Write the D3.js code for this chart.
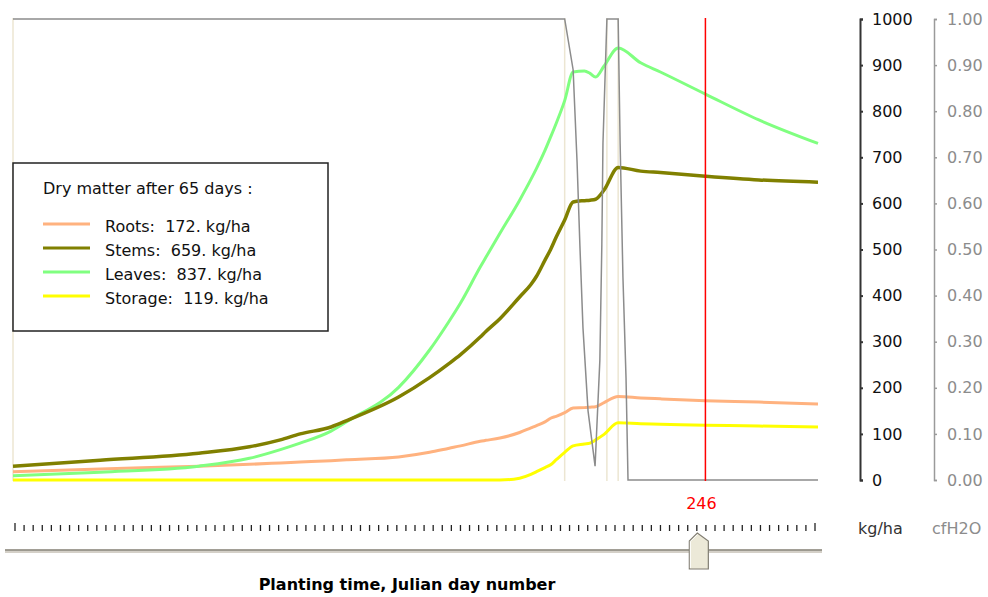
<!DOCTYPE html>
<html>
<head>
<meta charset="utf-8">
<script src="https://cdn.jsdelivr.net/npm/d3@7"></script>
<style>
  html, body { margin: 0; padding: 0; background: #ffffff; }
  svg { display: block; font-family: "DejaVu Sans", sans-serif; }
</style>
</head>
<body>
<svg id="chart" width="988" height="597"></svg>
<script>
// Planting day (Julian) on the x axis
const days    = [0, 31, 66, 84, 95, 102, 113, 119, 137, 148, 155, 159, 166, 168, 173, 180, 184, 186, 189, 191, 193, 196, 199, 203, 205, 207, 210, 215, 223, 230, 246, 265, 286];
// Dry matter after 65 days, kg/ha
const roots   = [18, 24, 30, 34, 37, 39, 42, 44, 50, 60, 69, 74, 84, 86, 91, 103, 113, 118, 126, 134, 138, 146, 156, 157, 158, 159, 168, 181, 178, 176, 172, 169, 165];
const stems   = [30, 43, 58, 72, 87, 100, 115, 130, 180, 222, 253, 272, 310, 322, 350, 397, 424, 442, 477, 500, 527, 564, 603, 606, 607, 609, 629, 678, 670, 667, 659, 651, 646];
const leaves  = [9, 17, 30, 47, 66, 80, 106, 128, 201, 282, 345, 384, 462, 483, 535, 607, 652, 676, 715, 744, 774, 823, 885, 887, 882, 874, 898, 937, 905, 885, 837, 781, 730];
const storage = [0, 0, 0, 0, 0, 0, 0, 0, 0, 0, 0, 0, 0, 0, 0, 4, 12, 18, 27, 33, 44, 60, 74, 78, 80, 87, 99, 124, 122, 121, 119, 117, 115];

// Water stress factor (cfH2O), 0..1
const waterDays = [0, 196, 199, 200.4, 201.4, 202.5, 204.3, 206.8, 208.5, 209.2, 209.6, 211, 215, 215.7, 216.7, 217.8, 218.5, 286];
const cfH2O     = [1, 1, 0.89, 0.69, 0.51, 0.33, 0.15, 0.03, 0.26, 0.51, 0.73, 1, 1, 0.73, 0.44, 0.22, 0, 0];

// Development stage boundaries
const stageDays = [0, 196, 211, 215];

const seriesNames  = ["Roots", "Stems", "Leaves", "Storage"];
const seriesColors = ["#ffb27f", "#808000", "#80ff80", "#ffff00"];
const seriesValues = [roots, stems, leaves, storage];

const kgTicks    = [0, 100, 200, 300, 400, 500, 600, 700, 800, 900, 1000];
const waterTicks = [0, 0.1, 0.2, 0.3, 0.4, 0.5, 0.6, 0.7, 0.8, 0.9, 1.0];

const selectedDay = 246;
const growthDays  = 65;
const sliderSteps = 88;

const svg = d3.select("#chart");

const x  = d3.scaleLinear().domain([0, 286]).range([13, 818]);
const y  = d3.scaleLinear().domain([0, 1000]).range([480, 19]);
const yw = d3.scaleLinear().domain([0, 1]).range([480, 19]);

// stage boundary lines
svg.append("g").selectAll("line").data(stageDays).join("line")
  .attr("x1", d => x(d)).attr("x2", d => x(d))
  .attr("y1", 18).attr("y2", 481)
  .attr("stroke", "#ece6d2").attr("stroke-width", 1.5);

// dry matter series
const line = d3.line().x((d, i) => x(days[i])).y(d => y(d)).curve(d3.curveMonotoneX);
const drawOrder = [0, 3, 2, 1];
svg.append("g").selectAll("path").data(drawOrder).join("path")
  .attr("d", k => line(seriesValues[k]))
  .attr("fill", "none")
  .attr("stroke", k => seriesColors[k])
  .attr("stroke-width", k => k === 1 ? 3.5 : 3)
  .attr("stroke-linejoin", "round");

// water factor
const wline = d3.line().x((d, i) => x(waterDays[i])).y(d => yw(d));
svg.append("path")
  .attr("d", wline(cfH2O))
  .attr("fill", "none")
  .attr("stroke", "#8c8c8c")
  .attr("stroke-width", 1.5);

// selected planting day
svg.append("line")
  .attr("x1", x(selectedDay)).attr("x2", x(selectedDay))
  .attr("y1", 18).attr("y2", 481)
  .attr("stroke", "#ff0000").attr("stroke-width", 1.5);
svg.append("text")
  .attr("x", x(selectedDay) - 4).attr("y", 509)
  .attr("text-anchor", "middle")
  .attr("fill", "#ff0000").attr("font-size", 16)
  .text(selectedDay);

// kg/ha axis
const axL = svg.append("g").attr("transform", "translate(860,0)")
  .call(d3.axisRight(y).tickValues(kgTicks).tickSize(3).tickPadding(9).tickFormat(d3.format("d")));
axL.selectAll("path, line").attr("stroke", "#333").attr("stroke-width", 2);
axL.selectAll("text").attr("font-size", 16).attr("font-family", "DejaVu Sans, sans-serif").attr("fill", "#111");

// cfH2O axis
const axR = svg.append("g").attr("transform", "translate(934,0)")
  .call(d3.axisRight(yw).tickValues(waterTicks).tickSize(3).tickPadding(10).tickFormat(d3.format(".2f")));
axR.selectAll("path, line").attr("stroke", "#9a9a9a").attr("stroke-width", 1.5);
axR.selectAll("text").attr("font-size", 16).attr("font-family", "DejaVu Sans, sans-serif").attr("fill", "#8c8c8c");

svg.append("text").attr("x", 858).attr("y", 534).attr("font-size", 16).attr("fill", "#333").text("kg/ha");
svg.append("text").attr("x", 932).attr("y", 534).attr("font-size", 16).attr("fill", "#8c8c8c").text("cfH2O");

// legend
const idx = days.indexOf(selectedDay);
const lg = svg.append("g");
lg.append("rect").attr("x", 13).attr("y", 163).attr("width", 315).attr("height", 168)
  .attr("fill", "#fff").attr("stroke", "#222").attr("stroke-width", 1.5);
lg.append("text").attr("x", 43).attr("y", 194).attr("font-size", 16).attr("fill", "#111")
  .text(`Dry matter after ${growthDays} days :`);
const rows = lg.selectAll("g.row").data(seriesNames).join("g").attr("class", "row")
  .attr("transform", (d, i) => `translate(0,${224 + i * 24})`);
rows.append("line").attr("x1", 43).attr("x2", 90).attr("y1", 0).attr("y2", 0)
  .attr("stroke", (d, i) => seriesColors[i]).attr("stroke-width", 3);
rows.append("text").attr("x", 105).attr("y", 8).attr("font-size", 16).attr("fill", "#111")
  .style("white-space", "pre")
  .text((d, i) => `${d}:  ${d3.format("d")(seriesValues[i][idx])}. kg/ha`);

// slider
const sx = d3.scaleLinear().domain([0, sliderSteps]).range([15, 815]);
const sliderDay = d3.scaleLinear().domain([0, 288]).range([15, 815]);
svg.append("g").selectAll("line").data(d3.range(sliderSteps + 1)).join("line")
  .attr("x1", d => sx(d)).attr("x2", d => sx(d))
  .attr("y1", d => (d === 0 || d === sliderSteps) ? 523 : 525).attr("y2", 531)
  .attr("stroke", "#222").attr("stroke-width", 1.3);
svg.append("rect").attr("x", 5).attr("y", 549.5).attr("width", 817).attr("height", 4)
  .attr("fill", "#d4d0c8");
svg.append("line").attr("x1", 5).attr("x2", 822).attr("y1", 550).attr("y2", 550).attr("stroke", "#8a877d").attr("stroke-width", 1.5);
svg.append("line").attr("x1", 5).attr("x2", 822).attr("y1", 553.5).attr("y2", 553.5).attr("stroke", "#ffffff").attr("stroke-width", 1);
const cx = sliderDay(selectedDay);
const thumb = `M${cx - 9},569 L${cx - 9},541 L${cx - 1},533 L${cx + 10},541 L${cx + 10},569 Z`;
svg.append("path").attr("d", thumb).attr("fill", "#ece9d8").attr("stroke", "#807d72").attr("stroke-width", 1.2);
svg.append("path").attr("d", `M${cx - 8},568 L${cx - 8},541.5 L${cx - 1},534.5`).attr("fill", "none").attr("stroke", "#ffffff").attr("stroke-width", 1);

// x axis title
svg.append("text").attr("x", 407).attr("y", 590).attr("text-anchor", "middle")
  .attr("font-size", 16).attr("font-weight", "bold").attr("fill", "#000")
  .text("Planting time, Julian day number");
</script>
</body>
</html>
